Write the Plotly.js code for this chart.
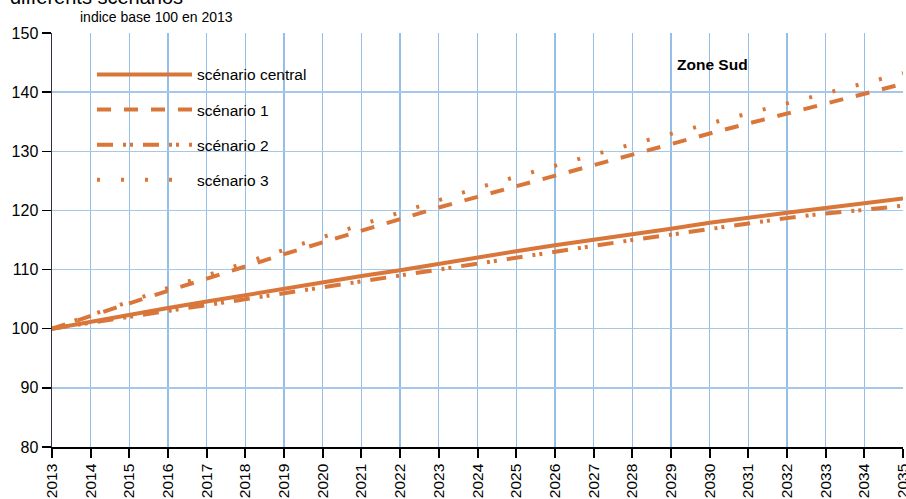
<!DOCTYPE html>
<html>
<head>
<meta charset="utf-8">
<script src="https://cdn.plot.ly/plotly-3.0.1.min.js"></script>
<style>html,body{margin:0;padding:0;background:#fff;}#chart{width:906px;height:499px;}</style>
</head>
<body>
<div id="chart"></div>
<script>
const years = [2013,2014,2015,2016,2017,2018,2019,2020,2021,2022,2023,2024,2025,2026,2027,2028,2029,2030,2031,2032,2033,2034,2035];
const scenarioCentral = [100,101.2,102.3,103.5,104.6,105.7,106.8,107.9,108.9,109.9,111.0,112.0,113.1,114.1,115.0,116.0,116.9,117.9,118.8,119.6,120.4,121.2,122.0];
const scenario1 = [100,102.2,104.3,106.4,108.5,110.6,112.6,114.6,116.6,118.6,120.5,122.3,124.1,125.9,127.7,129.5,131.3,133.0,134.7,136.4,138.1,139.8,141.4];
const scenario2 = [100,101.0,102.0,103.1,104.1,105.1,106.1,107.1,108.1,109.1,110.1,111.1,112.1,113.1,114.0,115.0,115.9,116.9,117.8,118.7,119.5,120.1,120.8];
const scenario3 = [100,102.3,104.6,106.9,109.0,111.2,113.4,115.5,117.6,119.7,121.8,123.8,125.7,127.6,129.4,131.2,133.0,134.7,136.4,138.1,139.8,141.5,143.2];
const seriesNames = ["scénario central","scénario 1","scénario 2","scénario 3"];
const xTickLabels = years.map(String);
const yTicks = [80,90,100,110,120,130,140,150];

const col = "#d9763a";
const dashes = ["solid","14px,13px","16px,10px,3px,4px,3px,10px","3px,21px"];
const series = [scenarioCentral, scenario1, scenario2, scenario3];
const traces = series.map((s,i)=>({
  x: years, y: s, type: "scatter", mode: "lines", name: seriesNames[i],
  legendgroup: "g"+i,
  line: {color: col, width: 4, dash: dashes[i]},
  hoverinfo: "skip"
}));

const font = "Liberation Sans, Arial, sans-serif";
const layout = {
  width: 906, height: 499,
  margin: {l: 52, r: 3, t: 33, b: 52},
  paper_bgcolor: "#fff", plot_bgcolor: "#fff",
  font: {family: font, size: 15, color: "#000"},
  showlegend: true,
  legend: {x: 0.047, y: 0.94, xanchor: "left", yanchor: "top", bgcolor: "rgba(0,0,0,0)",
    font: {family: font, size: 15.5, color: "#000"}, itemwidth: 95, tracegroupgap: 12},
  xaxis: {
    range: [2013, 2035], tickmode: "array", tickvals: years, ticktext: xTickLabels,
    tickangle: -90, ticks: "outside", ticklen: 9, tickwidth: 2, tickcolor: "#000",
    showline: true, linecolor: "#000", linewidth: 1.5, ticklabeloverflow: "allow",
    showgrid: true, gridcolor: "#95bfe6", gridwidth: 1.3, zeroline: false,
    tickfont: {family: font, size: 15.5, color: "#000"}
  },
  yaxis: {
    range: [80, 150], tickmode: "array", tickvals: yTicks,
    ticks: "outside", ticklen: 9, tickwidth: 1.5, tickcolor: "#000",
    showline: true, linecolor: "#2b3440", linewidth: 1.5,
    showgrid: true, gridcolor: "#a5c8e8", gridwidth: 1.3, zeroline: false,
    tickfont: {family: font, size: 16, color: "#000"}
  },
  annotations: [
    {text: "différents scénarios", xref: "paper", yref: "paper", x: -0.052, y: 1.056,
     xanchor: "left", yanchor: "bottom", showarrow: false, font: {family: font, size: 20, color: "#000"}},
    {text: "indice base 100 en 2013", xref: "paper", yref: "paper", x: 0.031, y: 1.039,
     xanchor: "left", yanchor: "middle", showarrow: false, font: {family: font, size: 14, color: "#000"}},
    {text: "<b>Zone Sud</b>", xref: "paper", yref: "paper", x: 0.7756, y: 0.925,
     xanchor: "center", yanchor: "middle", showarrow: false, font: {family: font, size: 15.5, color: "#000"}}
  ]
};
Plotly.newPlot("chart", traces, layout, {displayModeBar: false, staticPlot: true});
</script>
</body>
</html>
